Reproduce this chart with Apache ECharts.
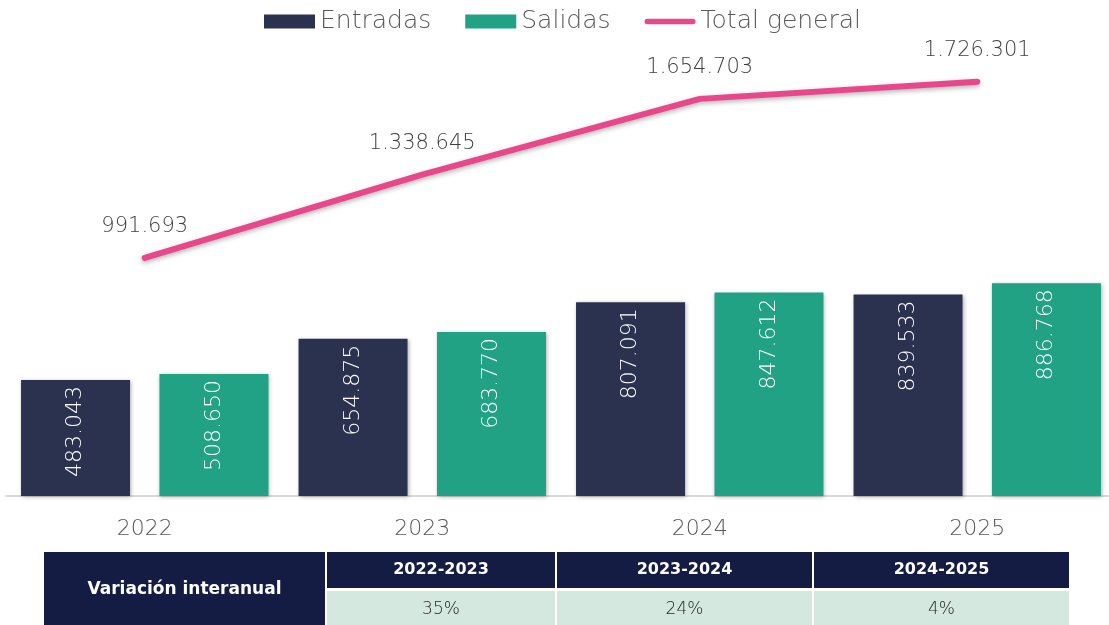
<!DOCTYPE html>
<html lang="es">
<head>
<meta charset="UTF-8" />
<title>Entradas y salidas</title>
<script src="https://cdn.jsdelivr.net/npm/echarts@6/dist/echarts.min.js"></script>
<style>
  html, body { margin: 0; padding: 0; background: #fff; }
  #main { width: 1109px; height: 625px; }
</style>
</head>
<body>
<div id="main"></div>
<script>
// datos
var years = ['2022', '2023', '2024', '2025'];
var entradas = [483043, 654875, 807091, 839533];
var salidas = [508650, 683770, 847612, 886768];
var total = [991693, 1338645, 1654703, 1726301];

// tabla de variación
var tableTitle = 'Variación interanual';
var periods = ['2022-2023', '2023-2024', '2024-2025'];
var variations = ['35%', '24%', '4%'];

var FONT = '"DejaVu Sans", sans-serif';
var LIGHT = 200;

function fmt(v) {
    return String(v).replace(/\B(?=(\d{3})+(?!\d))/g, '.');
}

var myChart = echarts.init(document.getElementById('main'));

// tabla como elementos graficos
var graphics = [];
var colX = [44, 327, 557, 814, 1071];
var rowY = [552, 591, 630];
graphics.push({
    type: 'rect',
    shape: { x: colX[0], y: rowY[0], width: colX[1] - colX[0] - 2, height: rowY[2] - rowY[0] },
    style: { fill: '#141c43' }
});
graphics.push({
    type: 'text',
    x: (colX[0] + colX[1] - 2) / 2, y: rowY[1] - 1,
    style: { text: tableTitle, fill: '#fff', font: 'bold 17px ' + FONT, align: 'center', verticalAlign: 'middle' }
});
for (var i = 0; i < periods.length; i++) {
    var x0 = colX[i + 1], w = colX[i + 2] - colX[i + 1] - 2;
    graphics.push({
        type: 'rect',
        shape: { x: x0, y: rowY[0], width: w, height: rowY[1] - rowY[0] - 3 },
        style: { fill: '#141c43' }
    });
    graphics.push({
        type: 'text',
        x: x0 + w / 2, y: (rowY[0] + rowY[1] - 3) / 2,
        style: { text: periods[i], fill: '#fff', font: 'bold 16px ' + FONT, align: 'center', verticalAlign: 'middle' }
    });
    graphics.push({
        type: 'rect',
        shape: { x: x0, y: rowY[1], width: w, height: rowY[2] - rowY[1] },
        style: { fill: '#d4e8e0' }
    });
    graphics.push({
        type: 'text',
        x: x0 + w / 2, y: 610,
        style: { text: variations[i], fill: '#262626', font: LIGHT + ' 17px ' + FONT, align: 'center', verticalAlign: 'middle' }
    });
}

var barLabel = {
    show: true,
    position: 'insideTop',
    rotate: 90,
    align: 'right',
    verticalAlign: 'middle',
    distance: 6,
    color: '#fff',
    fontFamily: FONT,
    fontWeight: LIGHT,
    fontSize: 22,
    formatter: function (p) { return fmt(p.value); }
};

var option = {
    animation: false,
    textStyle: { fontFamily: FONT },
    legend: {
        top: 4,
        left: 259,
        itemWidth: 51,
        itemHeight: 14,
        itemGap: 34,
        textStyle: { fontSize: 25, color: '#595959', fontFamily: FONT, fontWeight: LIGHT },
        data: [
            { name: 'Entradas', icon: 'rect' },
            { name: 'Salidas', icon: 'rect' },
            { name: 'Total general', icon: 'path://M3,0 H54 A3,3 0 0 1 54,6 H3 A3,3 0 0 1 3,0 Z' }
        ]
    },
    grid: { left: 6, width: 1110, top: 16, bottom: 129, containLabel: false, outerBoundsMode: 'none' },
    xAxis: {
        type: 'category',
        data: years,
        axisLine: { lineStyle: { color: '#d9d9d9', width: 2 } },
        axisTick: { show: false },
        axisLabel: { margin: 22, fontSize: 22, color: '#595959', fontFamily: FONT, fontWeight: LIGHT }
    },
    yAxis: {
        type: 'value',
        min: 0,
        max: 2000000,
        show: false,
        splitLine: { show: false }
    },
    series: [
        {
            name: 'Entradas',
            type: 'bar',
            data: entradas,
            barWidth: 109,
            barGap: '27%',
            itemStyle: { color: '#2b3250', shadowBlur: 4, shadowColor: 'rgba(0,0,0,0.3)', shadowOffsetX: 1, shadowOffsetY: 1 },
            label: barLabel
        },
        {
            name: 'Salidas',
            type: 'bar',
            data: salidas,
            barWidth: 109,
            itemStyle: { color: '#21a285', shadowBlur: 4, shadowColor: 'rgba(0,0,0,0.3)', shadowOffsetX: 1, shadowOffsetY: 1 },
            label: barLabel
        },
        {
            name: 'Total general',
            type: 'line',
            data: total,
            symbol: 'circle',
            symbolSize: 1,
            itemStyle: { color: '#e8488a' },
            lineStyle: { color: '#e8488a', width: 6, cap: 'round', join: 'round', shadowBlur: 5, shadowColor: 'rgba(0,0,0,0.3)', shadowOffsetY: 2 },
            label: {
                show: true,
                position: 'top',
                distance: 20,
                color: '#404040',
                fontSize: 21,
                fontFamily: FONT,
                fontWeight: LIGHT,
                formatter: function (p) { return fmt(p.value); }
            },
            z: 5
        }
    ],
    graphic: graphics
};

myChart.setOption(option);
</script>
</body>
</html>
